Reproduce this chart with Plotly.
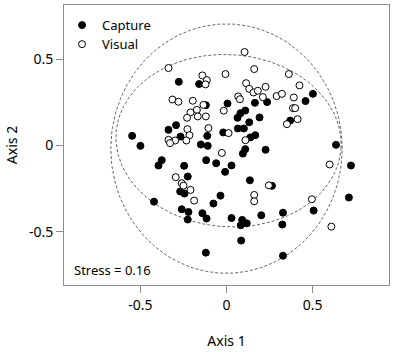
import numpy as np
import plotly.graph_objects as go

# ---- data ----
capture_x = [0.502, 0.459, 0.370, 0.636, 0.723, 0.711, 0.506, 0.328, 0.324, 0.328,
             0.202, 0.118, 0.091, 0.083, 0.085, 0.029, -0.120, -0.116, -0.140, -0.221,
             -0.225, -0.260, -0.421, -0.244, -0.269, -0.225, -0.246, -0.076, -0.035, 0.136,
             0.264, 0.029, -0.008, -0.060, -0.118, -0.395, -0.376, -0.548, -0.500, -0.337,
             -0.293, -0.267, -0.277, -0.159, -0.120, -0.112, -0.149, -0.109, -0.019, 0.006,
             0.064, 0.081, 0.109, 0.066, 0.101, 0.167, 0.138, 0.109, 0.095, 0.227,
             0.192, 0.165, 0.236, 0.132]
capture_y = [0.300, 0.258, 0.145, 0.004, -0.116, -0.302, -0.378, -0.390, -0.459, -0.640,
             -0.405, -0.452, -0.432, -0.463, -0.552, -0.421, -0.622, -0.424, -0.393, -0.386,
             -0.430, -0.370, -0.326, -0.279, -0.267, -0.180, -0.118, -0.337, -0.291, -0.202,
             -0.234, -0.116, -0.153, -0.103, -0.085, -0.116, -0.085, 0.056, -0.002, 0.091,
             0.118, 0.052, 0.370, 0.357, 0.234, 0.056, 0.006, -0.002, 0.076, 0.244,
             0.161, 0.188, 0.203, 0.099, 0.099, 0.060, 0.047, -0.021, -0.047, -0.025,
             0.163, 0.248, 0.252, 0.135]

visual_x = [0.105, -0.337, -0.140, -0.114, -0.122, -0.006, 0.161, 0.362, 0.424, 0.114,
            0.132, 0.157, 0.182, 0.227, 0.211, 0.291, 0.322, 0.391, 0.386, 0.399,
            0.413, 0.351, 0.068, 0.078, -0.016, -0.314, -0.279, -0.196, -0.134, -0.172,
            -0.209, -0.229, -0.167, -0.120, -0.105, -0.227, -0.215, -0.233, -0.298, -0.337,
            -0.328, 0.012, 0.110, -0.027, 0.599, -0.295, -0.260, -0.250, -0.209, -0.188,
            0.246, 0.161, 0.161, 0.496, 0.609]
visual_y = [0.543, 0.450, 0.407, 0.380, 0.355, 0.415, 0.444, 0.415, 0.349, 0.362,
            0.329, 0.308, 0.318, 0.341, 0.281, 0.287, 0.300, 0.279, 0.217, 0.217,
            0.153, 0.124, 0.285, 0.269, 0.202, 0.267, 0.254, 0.260, 0.236, 0.207,
            0.192, 0.161, 0.169, 0.169, 0.101, 0.095, 0.060, 0.029, 0.029, 0.033,
            0.014, 0.072, 0.031, -0.043, -0.110, -0.184, -0.219, -0.233, -0.258, -0.320,
            -0.231, -0.287, -0.324, -0.312, -0.471]

# ellipses: centre x, centre y, semi-axis x, semi-axis y, rotation (deg)
ellipse_cx = [0.000, 0.012]
ellipse_cy = [-0.018, 0.028]
ellipse_a = [0.672, 0.655]
ellipse_b = [0.724, 0.500]
ellipse_ang = [0.0, -4.0]

tick_vals = [-0.5, 0, 0.5]
tick_text = ["-0.5", "0", "0.5"]
stress_label = "Stress = 0.16"

FONT = "Noto Sans"

fig = go.Figure()

t = np.linspace(0, 2 * np.pi, 361)
for cx, cy, a, b, ang in zip(ellipse_cx, ellipse_cy, ellipse_a, ellipse_b, ellipse_ang):
    th = np.deg2rad(ang)
    ex = cx + a * np.cos(t) * np.cos(th) - b * np.sin(t) * np.sin(th)
    ey = cy + a * np.cos(t) * np.sin(th) + b * np.sin(t) * np.cos(th)
    fig.add_trace(go.Scatter(x=ex, y=ey, mode="lines", showlegend=False, hoverinfo="skip",
                             line=dict(color="#555555", width=0.9, dash="3px,2px")))

fig.add_trace(go.Scatter(x=capture_x, y=capture_y, mode="markers", name="Capture",
                         legend="legend",
                         marker=dict(symbol="circle", size=7, color="black",
                                     line=dict(color="black", width=1))))
fig.add_trace(go.Scatter(x=visual_x, y=visual_y, mode="markers", name="Visual",
                         legend="legend2",
                         marker=dict(symbol="circle", size=7, color="white",
                                     line=dict(color="black", width=1))))

fig.add_annotation(x=0.024, y=0.054, xref="paper", yref="paper", text=stress_label,
                   showarrow=False, xanchor="left", yanchor="middle",
                   font=dict(family=FONT, size=13, color="black"))

axis_common = dict(showgrid=False, zeroline=False, showline=True, mirror=True,
                   linecolor="#8c8c8c", linewidth=1, ticks="outside", ticklen=7,
                   tickcolor="#8c8c8c", tickwidth=1, tickvals=tick_vals, ticktext=tick_text,
                   tickfont=dict(family=FONT, size=14, color="black"))

legend_common = dict(xanchor="left", yanchor="middle", bgcolor="rgba(0,0,0,0)",
                     font=dict(family=FONT, size=13, color="black"), itemwidth=30)

fig.update_layout(
    width=394, height=352,
    margin=dict(l=64, r=5.3, t=5.3, b=67),
    paper_bgcolor="white", plot_bgcolor="white",
    showlegend=True,
    legend=dict(x=-0.006, y=0.928, **legend_common),
    legend2=dict(x=-0.006, y=0.860, **legend_common),
    xaxis=dict(range=[-0.9438, 0.9438],
               title=dict(text="Axis 1", font=dict(family=FONT, size=14, color="black"), standoff=23),
               **axis_common),
    yaxis=dict(range=[-0.810, 0.816],
               title=dict(text="Axis 2", font=dict(family=FONT, size=14, color="black"), standoff=8),
               **axis_common),
)

fig.write_html("out.html")
